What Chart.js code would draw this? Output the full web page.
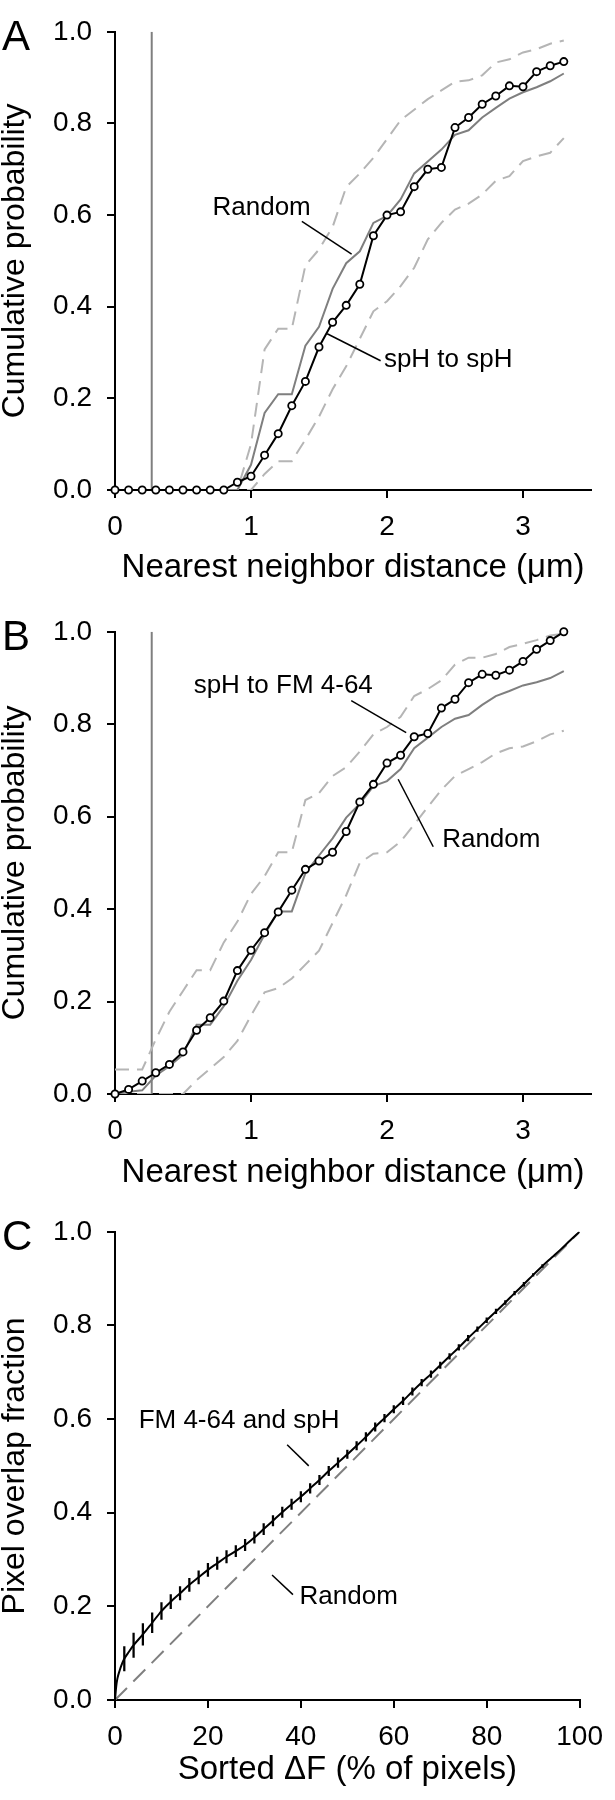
<!DOCTYPE html>
<html>
<head>
<meta charset="utf-8">
<script src="https://cdn.jsdelivr.net/npm/chart.js@4.4.0/dist/chart.umd.min.js"></script>
<style>
  html, body { margin: 0; padding: 0; background: #fff; }
  #wrap { position: relative; width: 615px; height: 1800px; }
  canvas { position: absolute; left: 0; width: 615px; height: 600px; }
</style>
</head>
<body>
<div id="wrap">
  <canvas id="chartA" width="615" height="600" style="top:0px"></canvas>
  <canvas id="chartB" width="615" height="600" style="top:600px"></canvas>
  <canvas id="chartC" width="615" height="600" style="top:1200px"></canvas>
</div>
<script>
// nearest neighbor distance (um), shared by panels A and B
const distance = [0, 0.1, 0.2, 0.3, 0.4, 0.5, 0.6, 0.7, 0.8, 0.9, 1.0, 1.1, 1.2, 1.3, 1.4, 1.5, 1.6,
  1.7, 1.8, 1.9, 2.0, 2.1, 2.2, 2.3, 2.4, 2.5, 2.6, 2.7, 2.8, 2.9, 3.0, 3.1, 3.2, 3.3];
const thresholdX = 0.27;

// panel A
const spHtoSpH = [0, 0, 0, 0, 0, 0, 0, 0, 0, 0.017, 0.030, 0.076, 0.123, 0.184, 0.237, 0.312, 0.366,
  0.403, 0.449, 0.555, 0.600, 0.607, 0.662, 0.700, 0.704, 0.791, 0.813, 0.842, 0.860, 0.882, 0.880, 0.913, 0.926, 0.935];
const randomA = [0, 0, 0, 0, 0, 0, 0, 0, 0, 0, 0.055, 0.168, 0.209, 0.209, 0.315, 0.356, 0.439,
  0.495, 0.521, 0.583, 0.598, 0.634, 0.691, 0.717, 0.743, 0.775, 0.785, 0.813, 0.834, 0.854, 0.868, 0.879, 0.892, 0.909];
const upperA = [0, 0, 0, 0, 0, 0, 0, 0, 0, 0, 0.100, 0.307, 0.352, 0.352, 0.490, 0.525, 0.574,
  0.661, 0.691, 0.725, 0.766, 0.807, 0.830, 0.853, 0.872, 0.891, 0.894, 0.905, 0.933, 0.940, 0.955, 0.962, 0.974, 0.981];
const lowerA = [0, 0, 0, 0, 0, 0, 0, 0, 0, 0, 0, 0.035, 0.063, 0.063, 0.110, 0.160, 0.220,
  0.270, 0.330, 0.390, 0.412, 0.445, 0.485, 0.547, 0.583, 0.612, 0.625, 0.645, 0.675, 0.685, 0.718, 0.728, 0.736, 0.768];

// panel B
const spHtoFM = [0, 0.010, 0.028, 0.046, 0.064, 0.091, 0.138, 0.165, 0.201, 0.267, 0.311, 0.349, 0.394,
  0.441, 0.486, 0.504, 0.523, 0.568, 0.632, 0.670, 0.716, 0.733, 0.773, 0.780, 0.835, 0.854, 0.890,
  0.908, 0.906, 0.917, 0.936, 0.962, 0.981, 1.0];
const randomB = [0, 0.005, 0.008, 0.040, 0.060, 0.085, 0.150, 0.150, 0.190, 0.245, 0.290, 0.345, 0.395,
  0.395, 0.478, 0.516, 0.553, 0.598, 0.628, 0.666, 0.677, 0.703, 0.748, 0.771, 0.794, 0.812, 0.820,
  0.842, 0.861, 0.872, 0.884, 0.891, 0.900, 0.915];
const upperB = [0.053, 0.053, 0.053, 0.118, 0.178, 0.223, 0.268, 0.268, 0.328, 0.373, 0.433, 0.471, 0.523,
  0.523, 0.636, 0.651, 0.688, 0.707, 0.741, 0.778, 0.794, 0.816, 0.861, 0.876, 0.895, 0.929, 0.944,
  0.944, 0.952, 0.967, 0.974, 0.982, 0.992, 0.996];
const lowerB = [0, 0, 0, 0, 0, 0, 0.030, 0.055, 0.080, 0.115, 0.170, 0.220, 0.229, 0.250, 0.280, 0.310,
  0.370, 0.430, 0.500, 0.520, 0.523, 0.546, 0.583, 0.621, 0.658, 0.688, 0.703, 0.718, 0.737, 0.748,
  0.752, 0.763, 0.778, 0.786];

// panel C
const sortedDF = [0, 0.25, 0.5, 1, 1.5, 2, 3, 4, 6, 8, 10, 12, 14, 16, 18, 20, 22, 24, 26, 28, 30, 32, 34,
  36, 38, 40, 42, 44, 46, 48, 50, 52, 54, 56, 58, 60, 62, 64, 66, 68, 70, 72, 74, 76, 78, 80, 82, 84,
  86, 88, 90, 92, 94, 96, 98, 100];
const overlapFM = [0, 0.028, 0.045, 0.063, 0.077, 0.088, 0.103, 0.117, 0.140, 0.165, 0.190, 0.210, 0.228,
  0.246, 0.262, 0.278, 0.292, 0.306, 0.318, 0.331, 0.347, 0.365, 0.383, 0.401, 0.418, 0.434, 0.452,
  0.470, 0.489, 0.507, 0.525, 0.543, 0.562, 0.583, 0.602, 0.621, 0.639, 0.659, 0.678, 0.696, 0.715,
  0.734, 0.753, 0.773, 0.792, 0.811, 0.830, 0.849, 0.869, 0.888, 0.908, 0.927, 0.945, 0.963, 0.982, 1.0];
const errorX = [2, 4, 6, 8, 10, 12, 14, 16, 18, 20, 22, 24, 26, 28, 30, 32, 34, 36, 38, 40, 42, 44, 46,
  48, 50, 52, 54, 56, 58, 60, 62, 64, 66, 68, 70, 72, 74, 76, 78, 80, 82, 84, 86, 88, 90, 92];
const errorHalf = [0.026, 0.026, 0.023, 0.021, 0.018, 0.015, 0.014, 0.014, 0.014, 0.014, 0.013, 0.013,
  0.012, 0.012, 0.012, 0.012, 0.011, 0.011, 0.011, 0.011, 0.010, 0.010, 0.010, 0.010, 0.009, 0.009,
  0.009, 0.009, 0.008, 0.008, 0.008, 0.008, 0.007, 0.007, 0.007, 0.006, 0.006, 0.006, 0.005, 0.005,
  0.005, 0.004, 0.004, 0.004, 0.003, 0.003];
const randomCx = [0, 100];
const randomCy = [0, 1];

const FONT = "'Liberation Sans', Arial, sans-serif";
const DARK_GRAY = "#7f7f7f";
const LIGHT_GRAY = "#b5b5b5";

Chart.defaults.font.family = FONT;
Chart.defaults.color = "#000";

const toPoints = (xs, ys) => xs.map((x, i) => ({ x, y: ys[i] }));

// panel letters, text labels and the little leader lines, placed in data units
const callouts = {
  id: "callouts",
  afterDatasetsDraw(chart, args, opts) {
    const { ctx, chartArea } = chart;
    const sx = chart.scales.x, sy = chart.scales.y;
    ctx.save();
    ctx.strokeStyle = "#000";
    ctx.fillStyle = "#000";
    ctx.lineWidth = 1.5;
    (opts.leaders || []).forEach(([x1, y1, x2, y2]) => {
      ctx.beginPath();
      ctx.moveTo(sx.getPixelForValue(x1), sy.getPixelForValue(y1));
      ctx.lineTo(sx.getPixelForValue(x2), sy.getPixelForValue(y2));
      ctx.stroke();
    });
    ctx.font = "26px " + FONT;
    ctx.textAlign = "center";
    ctx.textBaseline = "middle";
    (opts.labels || []).forEach((l) => {
      ctx.fillText(l.text, sx.getPixelForValue(l.x), sy.getPixelForValue(l.y));
    });
    if (opts.letter) {
      ctx.font = "42px " + FONT;
      ctx.textAlign = "left";
      ctx.textBaseline = "alphabetic";
      ctx.fillText(opts.letter, 2, chartArea.top + 18);
    }
    ctx.restore();
  },
};

function yScale(title) {
  return {
    type: "linear",
    min: 0,
    max: 1,
    afterFit: (s) => { s.width = 115; },
    ticks: { stepSize: 0.2, padding: 15, font: { size: 28 }, color: "#000",
      callback: (v) => v.toFixed(1) },
    grid: { drawOnChartArea: false, tickLength: 8, color: "#000", lineWidth: 2 },
    border: { color: "#000", width: 2 },
    title: { display: true, text: title, font: { size: 32 }, color: "#000", padding: { top: -4, bottom: 0 } },
  };
}

function xScale(max, step, title, height, titlePad) {
  return {
    type: "linear",
    min: 0,
    max: max,
    offset: false,
    afterFit: (s) => { s.height = height; },
    ticks: { stepSize: step, includeBounds: false, padding: 12, font: { size: 28 }, color: "#000",
      maxRotation: 0, autoSkip: false, callback: (v) => v },
    grid: { drawOnChartArea: false, tickLength: 8, color: "#000", lineWidth: 2, offset: false },
    border: { color: "#000", width: 2 },
    title: { display: true, text: title, font: { size: 33 }, color: "#000", padding: { top: 0, bottom: titlePad } },
  };
}

function cdfChart(id, black, random, upper, lower, top, xHeight, titlePad, callOpts) {
  new Chart(document.getElementById(id), {
    type: "line",
    data: {
      datasets: [
        { data: toPoints(distance, black), borderColor: "#000", borderWidth: 2, pointRadius: 3.6,
          pointBorderWidth: 1.8, pointBackgroundColor: "#fff", pointBorderColor: "#000", order: 0, clip: false },
        { data: toPoints(distance, random), borderColor: DARK_GRAY, borderWidth: 2, pointRadius: 0, order: 1 },
        { data: toPoints(distance, upper), borderColor: LIGHT_GRAY, borderWidth: 2, borderDash: [14, 8], pointRadius: 0, order: 2 },
        { data: toPoints(distance, lower), borderColor: LIGHT_GRAY, borderWidth: 2, borderDash: [14, 8], pointRadius: 0, order: 2 },
        { data: [{ x: thresholdX, y: 0 }, { x: thresholdX, y: 1 }], borderColor: DARK_GRAY, borderWidth: 2, pointRadius: 0, order: 3 },
      ],
    },
    options: {
      responsive: false,
      animation: false,
      devicePixelRatio: 1,
      layout: { padding: { top: top, right: 24, left: 0, bottom: 0 } },
      scales: {
        x: xScale(3.5, 1, "Nearest neighbor distance (\u03bcm)", xHeight, titlePad),
        y: yScale("Cumulative probability"),
      },
      plugins: { legend: { display: false }, tooltip: { enabled: false }, callouts: callOpts },
    },
    plugins: [callouts],
  });
}

cdfChart("chartA", spHtoSpH, randomA, upperA, lowerA, 15, 110, 12, {
  letter: "A",
  labels: [{ text: "Random", x: 1.078, y: 0.615 }, { text: "spH to spH", x: 2.45, y: 0.284 }],
  leaders: [[1.374, 0.586, 1.740, 0.515], [1.56, 0.341, 1.953, 0.282]],
});

cdfChart("chartB", spHtoFM, randomB, upperB, lowerB, 19, 106, 7, {
  letter: "B",
  labels: [{ text: "spH to FM 4-64", x: 1.237, y: 0.884 }, { text: "Random", x: 2.767, y: 0.549 }],
  leaders: [[1.737, 0.851, 2.141, 0.782], [2.082, 0.681, 2.34, 0.535]],
});

// panel C: overlap curve with error bars drawn as thin floating bars
const errorBars = errorX.map((x, i) => {
  const mid = overlapFM[sortedDF.indexOf(x)];
  return { x: x, y: [mid - errorHalf[i], mid + errorHalf[i]] };
});
new Chart(document.getElementById("chartC"), {
  type: "line",
  data: {
    datasets: [
      { data: toPoints(sortedDF, overlapFM), borderColor: "#000", borderWidth: 2, pointRadius: 0,
        cubicInterpolationMode: "monotone", order: 0 },
      { type: "bar", data: errorBars, backgroundColor: "#000", borderWidth: 0, barThickness: 1.6,
        grouped: false, order: 1 },
      { data: toPoints(randomCx, randomCy), borderColor: "#808080", borderWidth: 2, borderDash: [17, 9],
        pointRadius: 0, order: 2 },
    ],
  },
  options: {
    responsive: false,
    animation: false,
    devicePixelRatio: 1,
    layout: { padding: { top: 25, right: 24, left: 0, bottom: 0 } },
    scales: {
      x: xScale(100, 20, "Sorted \u0394F (% of pixels)", 100, 10),
      y: yScale("Pixel overlap fraction"),
    },
    plugins: {
      legend: { display: false },
      tooltip: { enabled: false },
      callouts: {
        letter: "C",
        labels: [{ text: "FM 4-64 and spH", x: 26.7, y: 0.596 }, { text: "Random", x: 50.3, y: 0.221 }],
        leaders: [[37.05, 0.545, 41.7, 0.5], [33.8, 0.267, 38.3, 0.225]],
      },
    },
  },
  plugins: [callouts],
});
</script>
</body>
</html>
